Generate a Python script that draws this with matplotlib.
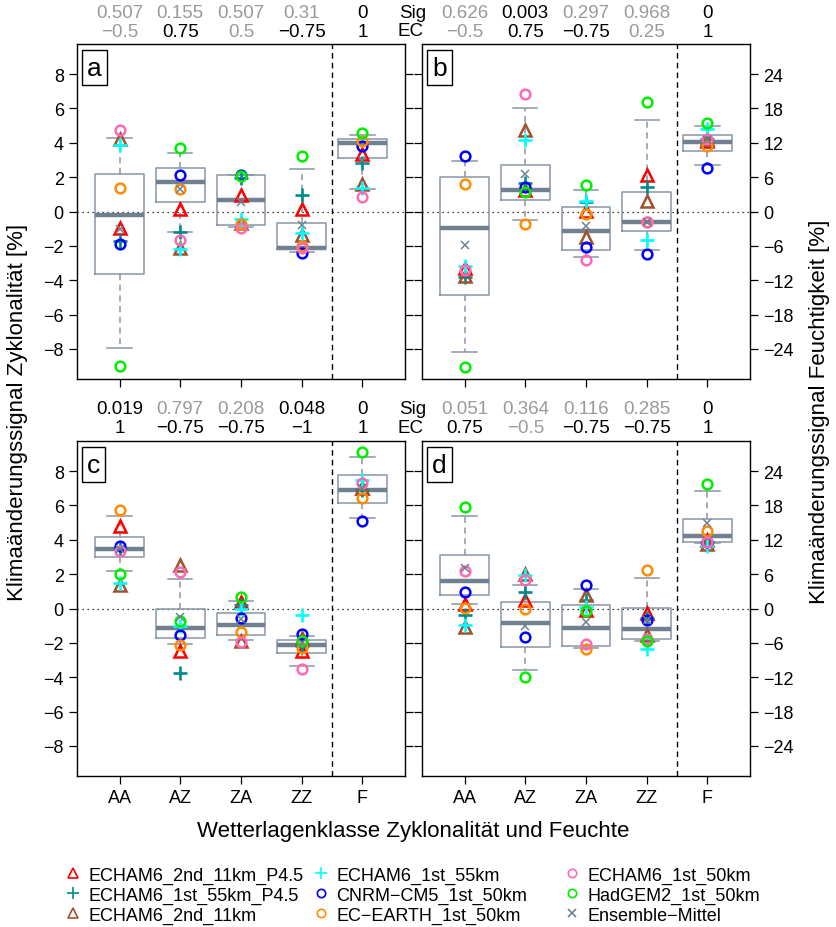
import matplotlib
matplotlib.use("Agg")
import matplotlib.pyplot as plt
from matplotlib.lines import Line2D
import matplotlib.transforms as mtrans

plt.rcParams['font.family'] = ['Liberation Sans', 'DejaVu Sans']

classes = ["AA", "AZ", "ZA", "ZZ", "F"]
models = ["ECHAM6_2nd_11km_P4.5", "ECHAM6_1st_55km_P4.5", "ECHAM6_2nd_11km",
          "ECHAM6_1st_55km", "CNRM\u2212CM5_1st_50km", "EC\u2212EARTH_1st_50km",
          "ECHAM6_1st_50km", "HadGEM2_1st_50km", "Ensemble\u2212Mittel"]

# ---- panel a (Zyklonalitaet, %) ----
a_red    = [-0.94, 0.15, 0.98, 0.15, 3.35]
a_teal   = [-1.70, -1.18, 1.95, 0.94, 2.83]
a_brown  = [4.22, -2.10, -0.69, -1.37, 1.62]
a_cyan   = [3.87, -2.18, -0.45, -1.23, 1.39]
a_blue   = [-1.87, 2.14, 2.12, -2.43, 3.83]
a_orange = [1.35, 1.31, -0.70, -1.98, 4.10]
a_pink   = [4.76, -1.64, -0.98, -2.10, 0.87]
a_green  = [-8.98, 3.68, 2.06, 3.24, 4.57]
a_ens    = [-1.00, 1.31, 0.56, -0.79, 3.00]
a_whislo = [-7.92, -1.18, -0.92, -2.35, 1.29]
a_q1     = [-3.64, 0.56, -0.79, -2.20, 3.14]
a_med    = [-0.23, 1.71, 0.67, -2.10, 3.99]
a_q3     = [2.20, 2.52, 2.10, -0.66, 4.22]
a_whishi = [4.26, 3.43, 2.12, 2.45, 4.47]
a_sig = [0.507, 0.155, 0.507, 0.31, 0]
a_ec  = [-0.5, 0.75, 0.5, -0.75, 1]

# ---- panel b (Feuchtigkeit, %) ----
b_red    = [-9.9, 3.7, 0.06, 6.3, 12.3]
b_teal   = [-11.5, 5.0, 1.7, 4.25, 12.6]
b_brown  = [-11.2, 14.2, -4.5, 1.85, 12.66]
b_cyan   = [-9.6, 12.5, 1.85, -4.9, 14.4]
b_blue   = [9.71, 4.3, -6.24, -7.5, 7.6]
b_orange = [4.74, -2.25, -0.52, -1.85, 11.4]
b_pink   = [-10.3, 20.6, -8.4, -1.8, 12.66]
b_green  = [-27.1, 3.4, 4.7, 19.1, 15.4]
b_ens    = [-5.78, 6.5, -2.6, -1.9, 12.4]
b_whislo = [-24.6, -1.45, -8.0, -6.7, 8.2]
b_q1     = [-14.5, 1.97, -6.76, -3.35, 10.5]
b_med    = [-2.83, 3.8, -3.35, -1.9, 12.1]
b_q3     = [5.95, 8.2, 0.75, 3.35, 13.3]
b_whishi = [8.9, 18.0, 3.8, 15.95, 15.0]
b_sig = [0.626, 0.003, 0.297, 0.968, 0]
b_ec  = [-0.5, 0.75, -0.75, 0.25, 1]

# ---- panel c (Zyklonalitaet, %) ----
c_red    = [4.83, -2.48, 0.37, -2.48, 7.0]
c_teal   = [3.50, -3.77, 0.20, -2.20, 6.9]
c_brown  = [1.37, 2.56, -1.90, -1.71, 7.0]
c_cyan   = [1.46, -1.04, -0.02, -0.37, 7.46]
c_blue   = [3.63, -1.52, -0.56, -1.48, 5.1]
c_orange = [5.75, -2.15, -1.37, -2.29, 6.46]
c_pink   = [3.35, 2.12, -1.94, -3.54, 7.33]
c_green  = [2.02, -0.75, 0.69, -1.90, 9.12]
c_ens    = [3.45, -0.52, -0.60, -2.00, 7.0]
c_whislo = [2.21, -2.06, -1.81, -3.35, 5.29]
c_q1     = [3.00, -1.71, -1.54, -2.60, 6.12]
c_med    = [3.46, -1.13, -0.96, -2.10, 6.90]
c_q3     = [4.15, -0.04, -0.27, -1.83, 7.77]
c_whishi = [5.40, 1.69, 0.46, -1.58, 8.80]
c_sig = [0.019, 0.797, 0.208, 0.048, 0]
c_ec  = [1, -0.75, -0.75, -1, 1]

# ---- panel d (Feuchtigkeit, %) ----
d_red    = [0.75, 1.5, -0.23, -0.8, 12.0]
d_teal   = [-1.1, 2.94, 1.5, -1.67, 11.6]
d_brown  = [-3.3, 6.06, 2.37, -4.56, 11.3]
d_cyan   = [-2.8, 5.9, 0.3, -7.15, 11.0]
d_blue   = [2.94, -5.0, 4.1, -1.96, 11.7]
d_orange = [0.17, -0.1, -7.15, 6.7, 13.6]
d_pink   = [6.58, 4.9, -6.17, -5.3, 11.6]
d_green  = [17.8, -11.9, -0.4, -5.7, 21.8]
d_ens    = [7.0, -3.1, -2.37, -2.0, 14.9]
d_whislo = [0.75, -10.8, -6.87, -5.6, 11.5]
d_q1     = [2.31, -6.75, -6.5, -5.37, 11.6]
d_med    = [4.73, -2.6, -3.4, -3.6, 12.7]
d_q3     = [9.35, 1.2, 0.63, 0.12, 15.6]
d_whishi = [16.2, 4.15, 3.4, 5.37, 20.5]
d_sig = [0.051, 0.364, 0.116, 0.285, 0]
d_ec  = [0.75, -0.5, -0.75, -0.75, 1]

colors  = ["#FF0000", "#008B8B", "#A0522D", "#00FFFF", "#0000FF",
           "#FF8C00", "#FF69B4", "#00EE00", "#708090"]
markers = ["^", "+", "^", "+", "o", "o", "o", "o", "x"]

panels = {
    "a": dict(series=[a_red, a_teal, a_brown, a_cyan, a_blue, a_orange, a_pink, a_green, a_ens],
              box=(a_whislo, a_q1, a_med, a_q3, a_whishi), sig=a_sig, ec=a_ec, hum=False),
    "b": dict(series=[b_red, b_teal, b_brown, b_cyan, b_blue, b_orange, b_pink, b_green, b_ens],
              box=(b_whislo, b_q1, b_med, b_q3, b_whishi), sig=b_sig, ec=b_ec, hum=True),
    "c": dict(series=[c_red, c_teal, c_brown, c_cyan, c_blue, c_orange, c_pink, c_green, c_ens],
              box=(c_whislo, c_q1, c_med, c_q3, c_whishi), sig=c_sig, ec=c_ec, hum=False),
    "d": dict(series=[d_red, d_teal, d_brown, d_cyan, d_blue, d_orange, d_pink, d_green, d_ens],
              box=(d_whislo, d_q1, d_med, d_q3, d_whishi), sig=d_sig, ec=d_ec, hum=True),
}

W, H = 837, 928
fig = plt.figure(figsize=(W / 100, H / 100), dpi=100)

def rect(x0, x1, ytop, ybot):
    return [x0 / W, 1 - ybot / H, (x1 - x0) / W, (ybot - ytop) / H]

pos = {"a": rect(77, 405, 45, 380), "b": rect(422, 750, 45, 380),
       "c": rect(77, 405, 442, 777), "d": rect(422, 750, 442, 777)}

box_edge = "#8896A6"
med_col = "#708090"
gray_txt = "#9A9A9A"

def fmt(v):
    return f"{v:g}".replace("-", "\u2212")

xs = list(range(1, len(classes) + 1))
for key, p in panels.items():
    ax = fig.add_axes(pos[key])
    wl, q1, md, q3, wh = p["box"]
    stats = [dict(whislo=wl[i], q1=q1[i], med=md[i], q3=q3[i], whishi=wh[i], fliers=[])
             for i in range(len(classes))]
    ax.bxp(stats, positions=xs, widths=0.8, showfliers=False, patch_artist=False,
           boxprops=dict(color=box_edge, lw=1.1),
           medianprops=dict(color=med_col, lw=3.2, solid_capstyle="butt"),
           whiskerprops=dict(color=box_edge, lw=1.1, linestyle=(0, (4, 3))),
           capprops=dict(color=box_edge, lw=1.1), capwidths=0.4, zorder=2)
    ax.axhline(0, color="black", lw=0.9, ls=(0, (1, 3)), zorder=1)
    ax.axvline(4.5, color="black", lw=1.0, ls=(0, (4, 3)), zorder=1)
    for s, c, m in zip(p["series"], colors, markers):
        if m == "+":
            ax.plot(xs, s, ls="none", marker=m, ms=10, mew=1.9, color=c, zorder=4)
        elif m == "x":
            ax.plot(xs, s, ls="none", marker=m, ms=5.5, mew=1.1, color=c, zorder=5)
        elif m == "^":
            ax.plot(xs, s, ls="none", marker=m, ms=8.5, mew=1.8, mfc="none", mec=c, zorder=4)
        else:
            ax.plot(xs, s, ls="none", marker=m, ms=7, mew=1.8, mfc="none", mec=c, zorder=4)
    ax.set_xlim(0.3, 5.7)
    if p["hum"]:
        ax.set_ylim(-29.25, 29.25)
        ticks = [-24, -18, -12, -6, 0, 6, 12, 18, 24]
    else:
        ax.set_ylim(-9.75, 9.75)
        ticks = [-8, -6, -4, -2, 0, 2, 4, 6, 8]
    ax.set_yticks(ticks)
    ax.set_yticklabels([fmt(t) for t in ticks])
    ax.set_xticks(xs)
    ax.tick_params(axis="both", direction="out", length=6, width=0.9, labelsize=13,
                   left=True, right=True, bottom=True, top=False)
    if p["hum"]:
        ax.tick_params(axis="y", labelleft=False, labelright=True)
    else:
        ax.tick_params(axis="y", labelleft=True, labelright=False)
    if key in ("c", "d"):
        ax.set_xticklabels(classes)
    else:
        ax.set_xticklabels([])
    for sp in ax.spines.values():
        sp.set_linewidth(1.0)
    ax.text(0.03, 0.965, key, transform=ax.transAxes, fontsize=19, va="top", ha="left",
            bbox=dict(boxstyle="square,pad=0.2", fc="white", ec="black", lw=1.0), zorder=6)
    tr = mtrans.blended_transform_factory(ax.transData, ax.transAxes)
    for i, x in enumerate(xs):
        sv = p["sig"][i]
        ev = p["ec"][i]
        ax.text(x, 1.0 + 32 / 335, fmt(sv), transform=tr, ha="center", va="center",
                fontsize=13.5, color="black" if sv < 0.05 else gray_txt, clip_on=False)
        ax.text(x, 1.0 + 13 / 335, fmt(ev), transform=tr, ha="center", va="center",
                fontsize=13.5, color="black" if abs(ev) >= 0.75 else gray_txt, clip_on=False)

for ytop in (45, 442):
    fig.text(413 / W, 1 - (ytop - 32) / H, "Sig", ha="center", va="center", fontsize=13.5)
    fig.text(411 / W, 1 - (ytop - 13) / H, "EC", ha="center", va="center", fontsize=13.5)

fig.text(18 / W, 1 - 412 / H, "Klimaänderungssignal Zyklonalität [%]", rotation=90,
         ha="center", va="center", fontsize=16)
fig.text(820 / W, 1 - 412 / H, "Klimaänderungssignal Feuchtigkeit [%]", rotation=90,
         ha="center", va="center", fontsize=16)
fig.text(413 / W, 1 - 832 / H, "Wetterlagenklasse Zyklonalität und Feuchte",
         ha="center", va="center", fontsize=16)

handles = []
for c, m, lab in zip(colors, markers, models):
    if m in ("+", "x"):
        h = Line2D([], [], ls="none", marker=m, ms=9 if m == "+" else 6, mew=1.2, color=c, label=lab)
    else:
        h = Line2D([], [], ls="none", marker=m, ms=7 if m == "^" else 6, mew=1.2,
                   mfc="none", mec=c, label=lab)
    handles.append(h)
col_x = [66, 314, 565]
for j, x0 in enumerate(col_x):
    fig.legend(handles=handles[3 * j:3 * j + 3], ncol=1, loc="center left",
               bbox_to_anchor=(x0 / W, 1 - 896 / H), frameon=False, fontsize=13,
               handlelength=0.8, handletextpad=0.45, labelspacing=0.16,
               borderpad=0, borderaxespad=0)

fig.savefig("out.png", dpi=100)
